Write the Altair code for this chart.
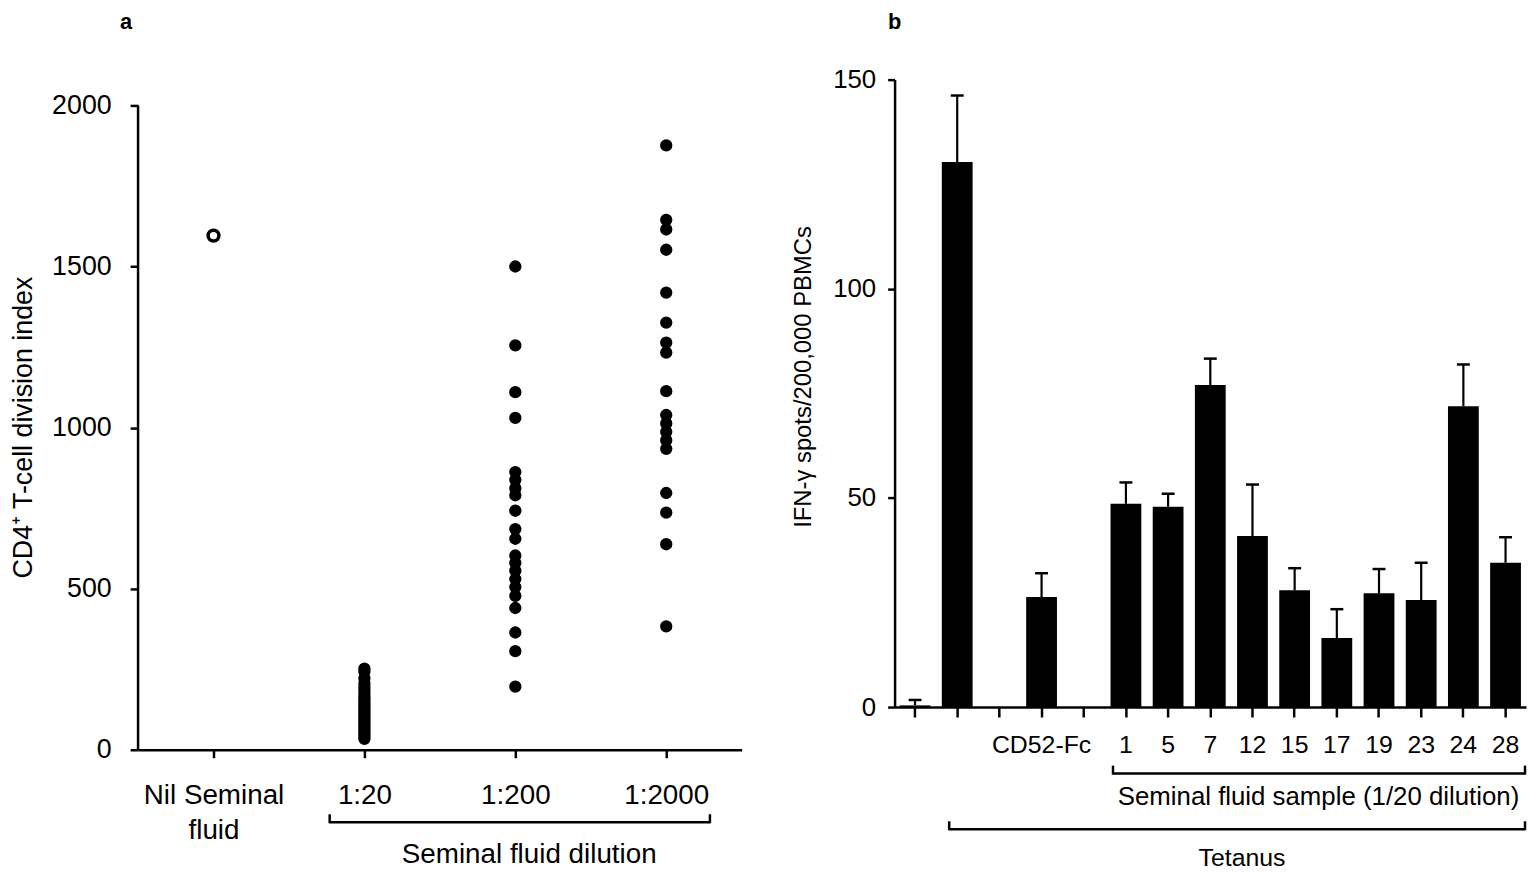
import altair as alt
import pandas as pd

FONT = "Liberation Sans"

# ---------------- Panel a data ----------------
groups_a = ["Nil Seminal fluid", "1:20", "1:200", "1:2000"]
nil_values = [1596]
d20_values = [252, 243, 222, 205, 193, 183, 172, 163, 155, 146, 138, 130,
              122, 114, 106, 98, 90, 82, 74, 66, 58, 50, 42, 34]
d200_values = [1500, 1255, 1110, 1030, 862, 838, 812, 790, 742, 685, 655,
               603, 580, 556, 530, 505, 478, 440, 364, 306, 196]
d2000_values = [1876, 1645, 1615, 1552, 1419, 1326, 1264, 1233, 1113, 1039,
                1013, 987, 961, 934, 797, 736, 638, 383]
ticks_a = [0, 500, 1000, 1500, 2000]

# ---------------- Panel b data ----------------
cats_b = [" ", "  ", "   ", "CD52-Fc", "    ", "1", "5", "7", "12", "15",
          "17", "19", "23", "24", "28"]
means_b = [0.4, 130.3, 0, 26.3, 0, 48.6, 47.9, 77.0, 40.9, 27.9, 16.5,
           27.2, 25.6, 71.9, 34.5]
upper_b = [1.7, 146.2, 0, 32.0, 0, 53.7, 51.0, 83.3, 53.2, 33.2, 23.4,
           33.0, 34.5, 81.9, 40.6]
ticks_b = [0, 50, 100, 150]

# ---------------- frames ----------------
filled_df = pd.DataFrame({
    "group": ["1:20"] * len(d20_values) + ["1:200"] * len(d200_values)
    + ["1:2000"] * len(d2000_values),
    "value": d20_values + d200_values + d2000_values,
})
nil_df = pd.DataFrame({"group": ["Nil Seminal fluid"] * len(nil_values),
                       "value": nil_values})
bar_df = pd.DataFrame({"cat": cats_b, "mean": means_b, "upper": upper_b})
err_df = bar_df[bar_df["upper"] > bar_df["mean"]]
one = pd.DataFrame({"k": [0]})

# ---------------- Panel a ----------------
W_A, H_A = 608, 675
ytop_a = 2000 * H_A / 649.0

xa = alt.X("group:N", sort=groups_a,
           scale=alt.Scale(domain=groups_a, type="point", padding=0.5),
           axis=alt.Axis(title=None, labelAngle=0, labelFontSize=28,
                         labelExpr="datum.value == 'Nil Seminal fluid' ? ['Nil Seminal', 'fluid'] : datum.label",
                         labelLineHeight=35, tickSize=8, labelPadding=24,
                         domainWidth=2.5, tickWidth=2.5))
ya = alt.Y("value:Q", scale=alt.Scale(domain=[0, ytop_a], nice=False, zero=True),
           axis=alt.Axis(values=ticks_a, format="d", domain=False,
                         title="CD4⁺ T-cell division index",
                         titleFontSize=27, titleFontWeight="normal", titleX=-101, titleY=350,
                         labelFontSize=27, tickSize=8, labelPadding=19, tickWidth=2.5))

pts = alt.Chart(filled_df).mark_circle(size=154, color="black", opacity=1).encode(x=xa, y=ya)
nil = alt.Chart(nil_df).mark_point(shape="circle", size=120, filled=False,
                                   color="black", strokeWidth=3.5, opacity=1).encode(x=xa, y=ya)
yline_a = alt.Chart(one).mark_rule(color="black", strokeWidth=2.5).encode(
    x=alt.value(0), y=alt.datum(0), y2=alt.datum(2000))

br_a = alt.Chart(one).mark_rule(color="black", strokeWidth=2.5).encode(
    x=alt.value(193), x2=alt.value(576), y=alt.value(748))
br_a_l = alt.Chart(one).mark_rule(color="black", strokeWidth=2.5).encode(
    x=alt.value(193), y=alt.value(740), y2=alt.value(749))
br_a_r = alt.Chart(one).mark_rule(color="black", strokeWidth=2.5).encode(
    x=alt.value(576), y=alt.value(740), y2=alt.value(749))
txt_a = alt.Chart(one).mark_text(text="Seminal fluid dilution", font=FONT, fontSize=28,
                                 baseline="middle", align="center", color="black").encode(
    x=alt.value(394), y=alt.value(781))
lab_a = alt.Chart(one).mark_text(text="a", font=FONT, fontSize=22, fontWeight="bold",
                                 baseline="middle", align="center", color="black").encode(
    x=alt.value(-12), y=alt.value(-58))

panel_a = alt.layer(yline_a, pts, nil, br_a, br_a_l, br_a_r, txt_a, lab_a).properties(
    width=W_A, height=H_A)

# ---------------- Panel b ----------------
W_B, H_B = 636, 632
xb = alt.X("cat:N", sort=cats_b,
           scale=alt.Scale(domain=cats_b, paddingInner=0.27, paddingOuter=0.12),
           axis=alt.Axis(title=None, labelAngle=0, labelFontSize=25, tickSize=10,
                         labelPadding=16, domainWidth=2.5, tickWidth=2.5))
yb = alt.Y("mean:Q", scale=alt.Scale(domain=[0, 150], nice=False),
           axis=alt.Axis(values=ticks_b, title="IFN-γ spots/200,000 PBMCs",
                         titleFontSize=24, titleFontWeight="normal", titleX=-80, titleY=299,
                         labelFontSize=26, tickSize=7, labelPadding=12,
                         domainWidth=2.5, tickWidth=2.5))

bars = alt.Chart(bar_df).mark_bar(color="black").encode(x=xb, y=yb)
err = alt.Chart(err_df).mark_rule(color="black", strokeWidth=2.2).encode(
    x=xb, y=alt.Y("mean:Q"), y2=alt.Y2("upper:Q"))
caps = alt.Chart(err_df).mark_tick(color="black", size=13, thickness=2.5, opacity=1).encode(
    x=xb, y=alt.Y("upper:Q"))

R_B = W_B - 1
br_s = alt.Chart(one).mark_rule(color="black", strokeWidth=2.5).encode(
    x=alt.value(220), x2=alt.value(R_B), y=alt.value(699))
br_s_l = alt.Chart(one).mark_rule(color="black", strokeWidth=2.5).encode(
    x=alt.value(220), y=alt.value(691), y2=alt.value(700))
br_s_r = alt.Chart(one).mark_rule(color="black", strokeWidth=2.5).encode(
    x=alt.value(R_B), y=alt.value(691), y2=alt.value(700))
txt_s = alt.Chart(one).mark_text(text="Seminal fluid sample (1/20 dilution)", font=FONT,
                                 fontSize=26, baseline="middle", align="center",
                                 color="black").encode(x=alt.value(427), y=alt.value(723))
br_t = alt.Chart(one).mark_rule(color="black", strokeWidth=2.5).encode(
    x=alt.value(55), x2=alt.value(R_B), y=alt.value(755))
br_t_l = alt.Chart(one).mark_rule(color="black", strokeWidth=2.5).encode(
    x=alt.value(55), y=alt.value(747), y2=alt.value(756))
br_t_r = alt.Chart(one).mark_rule(color="black", strokeWidth=2.5).encode(
    x=alt.value(R_B), y=alt.value(747), y2=alt.value(756))
txt_t = alt.Chart(one).mark_text(text="Tetanus", font=FONT, fontSize=25,
                                 baseline="middle", align="center",
                                 color="black").encode(x=alt.value(350), y=alt.value(784))
lab_b = alt.Chart(one).mark_text(text="b", font=FONT, fontSize=22, fontWeight="bold",
                                 baseline="middle", align="center", color="black").encode(
    x=alt.value(0), y=alt.value(-58))

panel_b = alt.layer(bars, err, caps, br_s, br_s_l, br_s_r, txt_s,
                    br_t, br_t_l, br_t_r, txt_t, lab_b).properties(width=W_B, height=H_B)

chart = alt.hconcat(panel_a, panel_b, spacing=154, bounds="flush",
                    padding={"left": 2, "top": 0, "right": 0, "bottom": 0}).configure_view(
    stroke=None
).configure_axis(
    grid=False, labelFont=FONT, titleFont=FONT, labelColor="black", titleColor="black",
    domainColor="black", tickColor="black"
)

chart.save("out.html", embed_options={"renderer": "svg", "actions": False})
